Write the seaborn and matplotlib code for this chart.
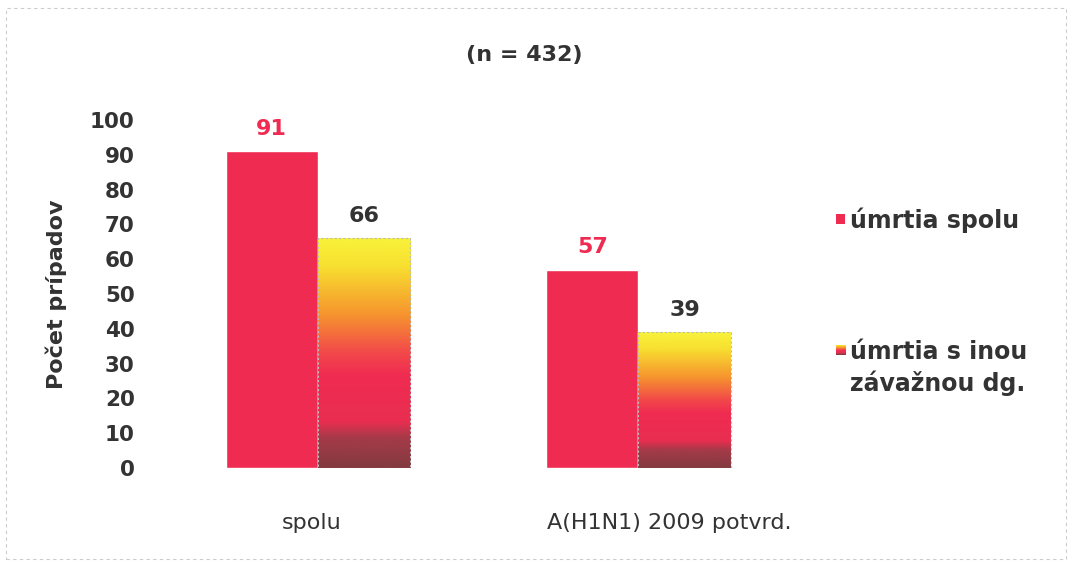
import numpy as np
import pandas as pd
import matplotlib
matplotlib.use("Agg")
import matplotlib.pyplot as plt
import matplotlib.transforms as mtransforms
from matplotlib.colors import LinearSegmentedColormap
from matplotlib.patches import Rectangle
import seaborn as sns

categories = ["spolu", "A(H1N1) 2009 potvrd."]
series = ["úmrtia spolu", "úmrtia s inou\nzávažnou dg."]
vals_total = [91, 57]
vals_other = [66, 39]
yticks = [0, 10, 20, 30, 40, 50, 60, 70, 80, 90, 100]

df = pd.DataFrame({
    "kat": categories * 2,
    "ser": [series[0]] * 2 + [series[1]] * 2,
    "val": vals_total + vals_other,
})

sns.set_theme(style="white")
plt.rcParams["font.family"] = ["DejaVu Sans"]

RED = "#f02b52"
TXT = "#333333"

fig = plt.figure(figsize=(10.72, 5.66), dpi=100)
ax = fig.add_axes([0.147, 0.173, 0.598, 0.615])

sns.barplot(data=df, x="kat", y="val", hue="ser", order=categories,
            hue_order=series, palette=[RED, "#f8a030"], width=0.575,
            gap=0, saturation=1, ax=ax, legend=False)

ax.set_xlim(-0.5, 1.5)
ax.set_ylim(0, 100)
ax.set_yticks(yticks)
ax.set_yticklabels([str(t) for t in yticks], fontsize=15.5, fontweight="bold", color=TXT)
ax.set_xticks(range(len(categories)))
ax.set_xticklabels(categories, fontsize=16, color=TXT)
ax.tick_params(axis="x", pad=32, length=0)
ax.tick_params(axis="y", pad=16.5, length=0)
ax.set_xlabel("")
ax.set_ylabel("Počet prípadov", fontsize=16, fontweight="bold", color=TXT)
ax.yaxis.set_label_coords(-0.142, 0.5)
for s in ax.spines.values():
    s.set_visible(False)

# shift category labels slightly as in the original
for lbl, dx in zip(ax.get_xticklabels(), [-4.5, 22]):
    lbl.set_transform(lbl.get_transform() +
                      mtransforms.ScaledTranslation(dx / 72, 0, fig.dpi_scale_trans))

# gradient for second series
cmap = LinearSegmentedColormap.from_list("grad", [
    (0.0, "#f8f23a"), (0.12, "#f8e030"), (0.33, "#f6952e"),
    (0.5, "#f2484a"), (0.6, "#f02b52"), (0.8, "#e82e50"),
    (0.87, "#a53a48"), (1.0, "#833a40")])
grad = np.linspace(0, 1, 256).reshape(-1, 1)
patches = [p for p in ax.patches if isinstance(p, Rectangle)]
n = len(categories)
total_patches = patches[:n]
other_patches = patches[n:2 * n]
for p in other_patches:
    x0, y0 = p.get_x(), p.get_y()
    w, h = p.get_width(), p.get_height()
    im = ax.imshow(grad, cmap=cmap, aspect="auto",
                   extent=[x0, x0 + w, y0, y0 + h], origin="upper",
                   zorder=p.get_zorder() + 0.1)
    im.set_clip_path(p)
    ax.add_patch(Rectangle((x0, y0), w, h, fill=False, edgecolor="#bbbbbb",
                           linestyle=(0, (2, 2)), linewidth=0.8,
                           zorder=p.get_zorder() + 0.2))
ax.set_xlim(-0.5, 1.5)
ax.set_ylim(0, 100)

for p, v in zip(total_patches, vals_total):
    ax.text(p.get_x() + p.get_width() / 2, v + 3.5, str(v), ha="center", va="bottom",
            fontsize=16, fontweight="bold", color=RED)
for p, v in zip(other_patches, vals_other):
    ax.text(p.get_x() + p.get_width() / 2, v + 3.5, str(v), ha="center", va="bottom",
            fontsize=16, fontweight="bold", color=TXT)

fig.text(0.489, 0.903, "(n = 432)", ha="center", va="center", fontsize=16,
         fontweight="bold", color=TXT)

# legend
fig.patches.append(Rectangle((0.7795, 0.604), 0.0085, 0.018, transform=fig.transFigure,
                             facecolor=RED, edgecolor="none"))
fig.text(0.793, 0.610, series[0], ha="left", va="center", fontsize=17,
         fontweight="bold", color=TXT)
gax = fig.add_axes([0.7795, 0.372, 0.0085, 0.018])
gax.imshow(grad, cmap=cmap, aspect="auto")
gax.set_axis_off()
fig.text(0.793, 0.378, "úmrtia s inou", ha="left", va="center", fontsize=17,
         fontweight="bold", color=TXT)
fig.text(0.793, 0.322, "závažnou dg.", ha="left", va="center", fontsize=17,
         fontweight="bold", color=TXT)

# frame
fig.patches.append(Rectangle((0.006, 0.012), 0.988, 0.974, transform=fig.transFigure,
                             fill=False, edgecolor="#cccccc", linestyle=(0, (3, 3)),
                             linewidth=0.8))

fig.savefig("out.png", dpi=100)
